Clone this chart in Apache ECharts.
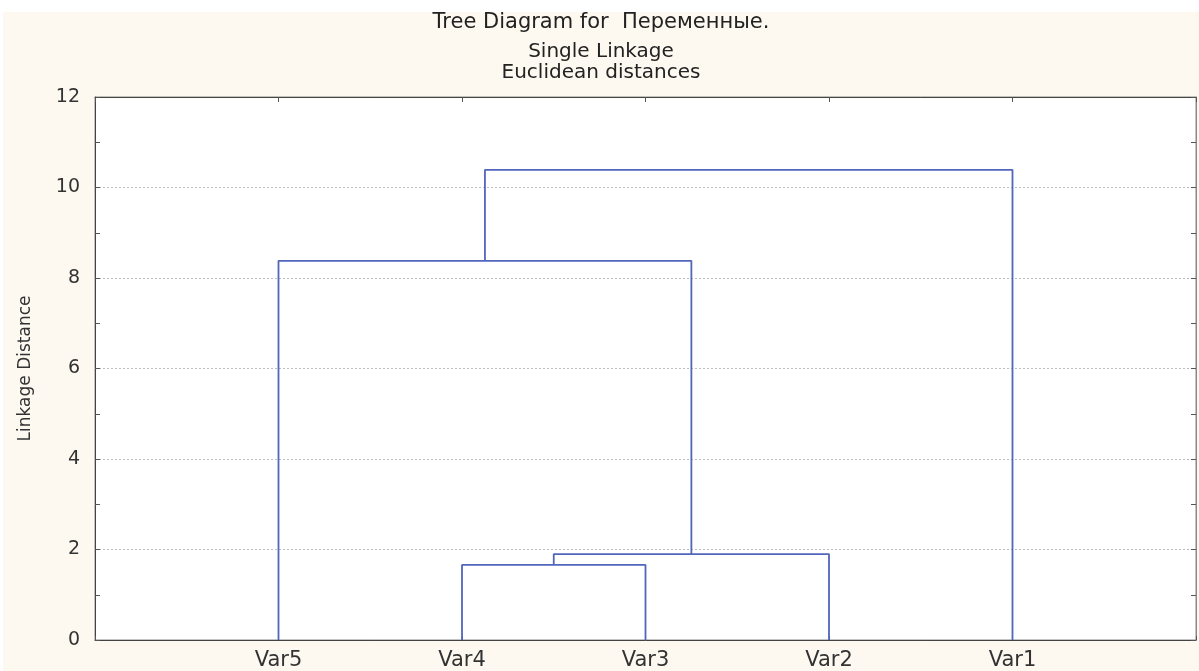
<!DOCTYPE html>
<html>
<head>
<meta charset="utf-8">
<script src="https://cdn.jsdelivr.net/npm/echarts@6/dist/echarts.min.js"></script>
<style>
  html, body { margin: 0; padding: 0; background: #ffffff; overflow: hidden; }
  #chart { position: absolute; left: 3px; top: 12px; width: 1196px; height: 659px; }
</style>
</head>
<body>
<div id="chart"></div>
<script>
// leaves in dendrogram order, left to right
const leaves = ['Var5', 'Var4', 'Var3', 'Var2', 'Var1']
// merge steps: C1..C4 are the clusters made by each step
const mergeA = ['Var4', 'C1', 'Var5', 'C3']
const mergeB = ['Var3', 'Var2', 'C2', 'Var1']
const mergeHeights = [1.66, 1.90, 8.38, 10.39]
const yTicks = [0, 2, 4, 6, 8, 10, 12]

const font = 'DejaVu Sans'
const lineColor = '#5266bb'

// node position (x index) and height
const nodes = {}
leaves.forEach(function (name, i) {
  nodes[name] = { x: i + 1, h: 0 }
})
const series = []
for (let i = 0; i < mergeHeights.length; i++) {
  const a = nodes[mergeA[i]]
  const b = nodes[mergeB[i]]
  const h = mergeHeights[i]
  nodes['C' + (i + 1)] = { x: (a.x + b.x) / 2, h: h }
  series.push({
    type: 'line',
    data: [[a.x, a.h], [a.x, h], [b.x, h], [b.x, b.h]],
    symbol: 'none',
    silent: true,
    lineStyle: { color: lineColor, width: 1.8 }
  })
}

const chart = echarts.init(document.getElementById('chart'))
chart.setOption({
  backgroundColor: '#fdf9f0',
  animation: false,
  title: [{
    text: 'Tree Diagram for  Переменные.',
    left: 'center',
    top: -1,
    padding: [0, 0, 0, 14],
    textStyle: { fontFamily: font, fontSize: 21, fontWeight: 'normal', color: '#222', lineHeight: 23 }
  }, {
    text: 'Single Linkage\nEuclidean distances',
    left: 'center',
    top: 29,
    padding: [0, 0, 0, 14],
    textStyle: { fontFamily: font, fontSize: 20, fontWeight: 'normal', color: '#222', lineHeight: 21 }
  }],
  grid: {
    left: 92,
    width: 1103,
    top: 85,
    bottom: 31,
    show: true,
    backgroundColor: '#ffffff',
    borderColor: '#888',
    borderWidth: 1
  },
  xAxis: [{
    type: 'value',
    position: 'bottom',
    min: 0,
    max: leaves.length + 1,
    interval: 1,
    axisLine: { onZero: false, lineStyle: { color: '#444', width: 1 } },
    axisTick: { inside: true, length: 4, lineStyle: { color: '#555' } },
    splitLine: { show: false },
    axisLabel: {
      margin: 10,
      fontFamily: font,
      fontSize: 21,
      color: '#333',
      formatter: function (v) { return leaves[v - 1] || '' }
    }
  }, {
    type: 'value',
    position: 'top',
    min: 0,
    max: leaves.length + 1,
    interval: 1,
    axisLine: { onZero: false, lineStyle: { color: '#444', width: 1 } },
    axisTick: { inside: true, length: 5, lineStyle: { color: '#555' } },
    splitLine: { show: false },
    axisLabel: { show: false }
  }],
  yAxis: [{
    type: 'value',
    position: 'left',
    min: yTicks[0],
    max: yTicks[yTicks.length - 1],
    interval: yTicks[1] - yTicks[0],
    name: 'Linkage Distance',
    nameLocation: 'middle',
    nameGap: 61,
    nameTextStyle: { fontFamily: font, fontSize: 17, color: '#333' },
    axisLine: { onZero: false, lineStyle: { color: '#444', width: 1 } },
    axisTick: { inside: true, length: 5, lineStyle: { color: '#555' } },
    minorTick: { show: true, splitNumber: 2, length: 5, lineStyle: { color: '#555' } },
    splitLine: { show: true, lineStyle: { color: '#bdbdbd', type: [2, 2], width: 1 } },
    axisLabel: { margin: 15, fontFamily: font, fontSize: 19, color: '#333' }
  }, {
    type: 'value',
    position: 'right',
    min: yTicks[0],
    max: yTicks[yTicks.length - 1],
    interval: yTicks[1] - yTicks[0],
    axisLine: { show: true, onZero: false, lineStyle: { color: '#888', width: 1 } },
    axisTick: { inside: true, length: 5, lineStyle: { color: '#555' } },
    minorTick: { show: true, splitNumber: 2, length: 5, lineStyle: { color: '#555' } },
    splitLine: { show: false },
    axisLabel: { show: false }
  }],
  series: series
})
</script>
</body>
</html>
